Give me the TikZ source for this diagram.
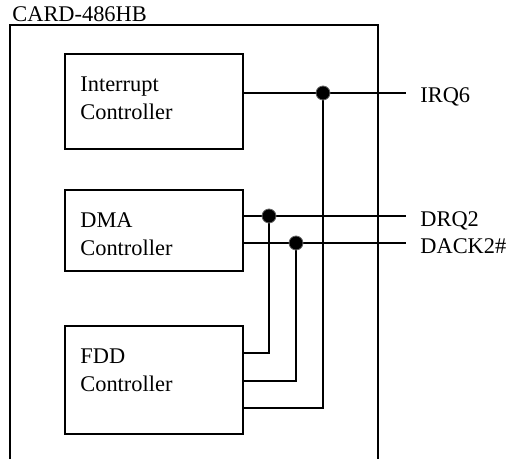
\documentclass[tikz,border=0pt]{standalone}
\usepackage{fontspec}
\setmainfont{Liberation Serif}
\usepackage{tikz}
\usetikzlibrary{positioning}

\tikzset{
    ctrlbox/.style={draw, line width=1pt, minimum width=89pt, anchor=north west, inner sep=0pt},
    ctrltext/.style={align=left, inner sep=0pt, font=\fontsize{11.2}{14}\selectfont},
    sig/.style={anchor=base west, inner sep=0pt, font=\fontsize{11.2}{14}\selectfont},
    wire/.style={line width=1pt},
    dot/.style={circle, fill=black, draw=black!60, line width=0.4pt, minimum size=7pt, inner sep=0pt}
}

\begin{document}
\begin{tikzpicture}[x=0.5pt, y=-0.5pt]
    \useasboundingbox (0,0) rectangle (507,459);

    % Card outline (open at the bottom)
    \draw[line width=1pt] (10,459) |- (378,25) -- (378,459);
    \node[sig] (card) at (12,22) {CARD-486HB};

    % Controllers
    \node[ctrlbox, minimum height=47.5pt] (intc) at (64,53) {};
    \node[ctrlbox, minimum height=40.5pt] (dmac) at (64,189) {};
    \node[ctrlbox, minimum height=54pt] (fddc) at (64,325) {};
    \node[ctrltext, below right=11.5pt and 8pt of intc.north west] (intctext) {Interrupt\\Controller};
    \node[ctrltext, below right=11.5pt and 8pt of dmac.north west] (dmactext) {DMA\\Controller};
    \node[ctrltext, below right=11.5pt and 8pt of fddc.north west] (fddctext) {FDD\\Controller};

    % Signal ends and labels
    \coordinate (irqend) at (406,93);
    \coordinate (drqend) at (406,216);
    \coordinate (dackend) at (406,243);
    \node[sig] (irq6) at (420,103) {IRQ6};
    \node[sig] (drq2) at (420,227) {DRQ2};
    \node[sig] (dack2) at (420,253) {DACK2\#};

    % Junctions
    \coordinate (irqj) at (323,93);
    \coordinate (drqj) at (269,216);
    \coordinate (dackj) at (296,243);

    % Wires
    \draw[wire] (intc.east |- irqend) -- (irqend);
    \draw[wire] (dmac.east |- drqend) -- (drqend);
    \draw[wire] (dmac.east |- dackend) -- (dackend);
    \draw[wire] (drqj) |- ([yshift=13.5pt]fddc.east);
    \draw[wire] (dackj) |- ([yshift=-0.5pt]fddc.east);
    \draw[wire] (irqj) |- ([yshift=-14pt]fddc.east);

    % Junction dots
    \node[dot] (irqdot) at (irqj) {};
    \node[dot] (drqdot) at (drqj) {};
    \node[dot] (dackdot) at (dackj) {};
\end{tikzpicture}
\end{document}
